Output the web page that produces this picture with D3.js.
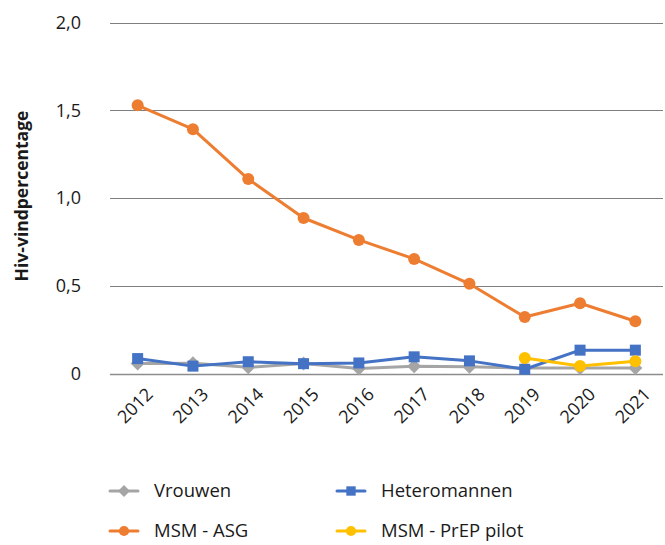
<!DOCTYPE html>
<html><head><meta charset="utf-8">
<script src="https://cdn.jsdelivr.net/npm/d3@7"></script>
<style>body{margin:0;background:#fff}svg{display:block}text{font-family:"Open Sans","Noto Sans",sans-serif;fill:#1a1a1a}</style>
</head><body><svg id="c" width="665" height="545"></svg>
<script>
const years = ["2012","2013","2014","2015","2016","2017","2018","2019","2020","2021"];
const vrouwen = [0.057,0.058,0.035,0.057,0.028,0.041,0.038,0.031,0.031,0.031];
const heteromannen = [0.085,0.042,0.067,0.056,0.060,0.095,0.072,0.024,0.133,0.133];
const msmAsg = [1.528,1.392,1.108,0.886,0.761,0.653,0.511,0.322,0.400,0.298];
const msmPrep = [null,null,null,null,null,null,null,0.088,0.043,0.070];
const yTicks = [0,0.5,1.0,1.5,2.0];
const yLabel = "Hiv-vindpercentage";

const series = [
  {name:"Vrouwen", values:vrouwen, color:"#A5A5A5", shape:"diamond"},
  {name:"Heteromannen", values:heteromannen, color:"#4472C4", shape:"square"},
  {name:"MSM - ASG", values:msmAsg, color:"#ED7D31", shape:"circle"},
  {name:"MSM - PrEP pilot", values:msmPrep, color:"#FFC000", shape:"circle"}
];

const svg = d3.select("#c");
const x = d3.scaleBand().domain(years).range([110,663]);
const y = d3.scaleLinear().domain([0,2]).range([373.5,22.5]);
const fmt = v => v===0 ? "0" : d3.format(".1f")(v).replace(".",",");

svg.append("g").selectAll("line").data(yTicks).join("line")
  .attr("x1",110).attr("x2",663)
  .attr("y1",d=>Math.round(y(d))+0.5).attr("y2",d=>Math.round(y(d))+0.5)
  .attr("stroke",d=>d===0?"#8c8c8c":"#7f7f7f").attr("stroke-width",d=>d===0?1.5:1);

svg.append("g").selectAll("text").data(yTicks).join("text")
  .attr("x",81).attr("y",d=>y(d)).attr("dy","0.35em").attr("text-anchor","end")
  .style("font-size","18px").text(fmt);

svg.append("text").attr("transform","translate(28,196) rotate(-90)")
  .attr("text-anchor","middle").style("font-size","17.5px").style("font-weight","bold").text(yLabel);

svg.append("g").selectAll("text").data(years).join("text")
  .attr("transform",d=>`translate(${x(d)+x.bandwidth()/2+12},${391}) rotate(-45)`)
  .attr("text-anchor","end").attr("dy","0.35em").style("font-size","18px").text(d=>d);

function marker(g, shape, color, cx, cy, sc=1){
  if(shape==="circle") g.append("circle").attr("cx",cx).attr("cy",cy).attr("r",6*sc).attr("fill",color);
  else if(shape==="square") g.append("rect").attr("x",cx-5.5*sc).attr("y",cy-5.5*sc).attr("width",11*sc).attr("height",11*sc).attr("fill",color);
  else g.append("path").attr("d",`M${cx},${cy-7*sc}L${cx+7*sc},${cy}L${cx},${cy+7*sc}L${cx-7*sc},${cy}Z`).attr("fill",color);
}

const cx = d=>x(d)+x.bandwidth()/2;
series.forEach(s=>{
  const g = svg.append("g");
  const pts = years.map((yr,i)=>({yr,v:s.values[i]})).filter(p=>p.v!=null);
  g.append("path").datum(pts)
    .attr("d",d3.line().x(p=>cx(p.yr)).y(p=>y(p.v)))
    .attr("fill","none").attr("stroke",s.color).attr("stroke-width",3).attr("stroke-linejoin","round");
  pts.forEach(p=>marker(g,s.shape,s.color,cx(p.yr),y(p.v)));
});

const legPos = [[110,491],[337,491],[110,531],[337,531]];
series.forEach((s,i)=>{
  const [lx,ly] = legPos[i];
  const g = svg.append("g");
  g.append("line").attr("x1",lx).attr("x2",lx+28).attr("y1",ly).attr("y2",ly)
    .attr("stroke",s.color).attr("stroke-width",3).attr("stroke-linecap","round");
  marker(g,s.shape,s.color,lx+14,ly,0.85);
  g.append("text").attr("x",lx+44).attr("y",ly).attr("dy","0.35em").style("font-size","18.5px").text(s.name);
});
</script></body></html>
